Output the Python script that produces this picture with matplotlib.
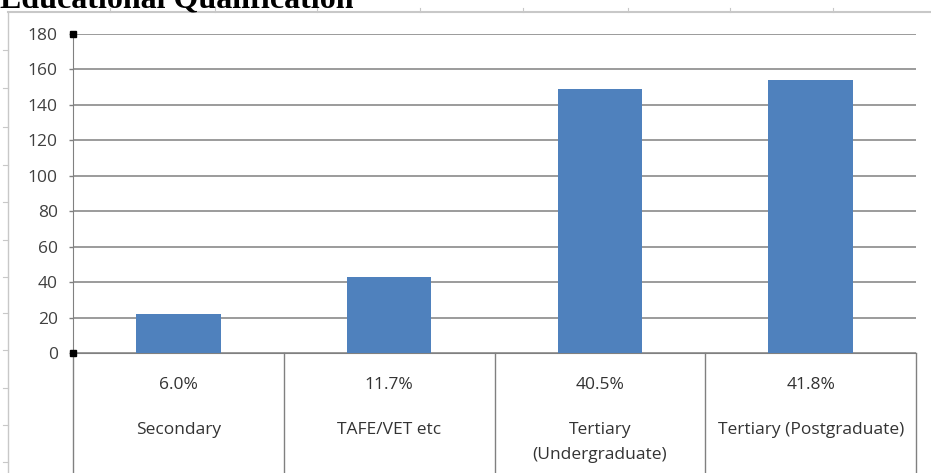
import numpy as np
import matplotlib.pyplot as plt
from matplotlib.lines import Line2D

categories = ['Secondary', 'TAFE/VET etc', 'Tertiary\n(Undergraduate)', 'Tertiary (Postgraduate)']
counts = [22, 43, 149, 154]
shares = ['6.0%', '11.7%', '40.5%', '41.8%']
yticks = [0, 20, 40, 60, 80, 100, 120, 140, 160, 180]

W, H = 931, 473
fig = plt.figure(figsize=(W / 100, H / 100), dpi=100)
fig.patch.set_facecolor('white')

# faint sheet border lines with small ticks (background of the screenshot)
bg = '#c8c8c8'
fig.add_artist(Line2D([8 / W, 8 / W], [0, 1 - 12 / H], color=bg, lw=1))
fig.add_artist(Line2D([8 / W, 1], [1 - 12 / H, 1 - 12 / H], color=bg, lw=1.5))
for yp in [50, 88, 127, 165, 202, 240, 277, 313, 350, 388, 425, 462]:
    fig.add_artist(Line2D([3 / W, 8 / W], [1 - yp / H, 1 - yp / H], color=bg, lw=0.8))
for xp in [110, 215, 317, 420, 523, 628, 730, 833]:
    fig.add_artist(Line2D([xp / W, xp / W], [1 - 12 / H, 1 - 8 / H], color=bg, lw=0.8))

# title, cut off at the top
fig.text(0.0, 1 - 7 / H, 'Educational Qualification', family='Liberation Serif',
         weight='bold', fontsize=23, ha='left', va='baseline')

ax = fig.add_axes([73 / W, 1 - 353 / H, (916 - 73) / W, (353 - 34) / H])
x = np.arange(len(categories))
ax.bar(x, counts, width=0.4, color='#4f81bd', zorder=3)
ax.set_xlim(-0.5, len(categories) - 0.5)
ax.set_ylim(0, 180)
ax.set_yticks(yticks)
ax.yaxis.grid(True, color='#808080', lw=1.1, zorder=0)
ax.set_xticks([])
ax.tick_params(axis='y', length=3, width=1, color='#808080', labelsize=12.5,
               labelcolor='#404040', pad=8)
for lab in ax.get_yticklabels():
    lab.set_family('Open Sans')
for s in ['top', 'right']:
    ax.spines[s].set_visible(False)
ax.spines['bottom'].set_color('#808080')
ax.spines['left'].set_color('#808080')
ax.spines['left'].set_bounds(0, 180)

# small black handles at the axis ends
ax.plot([-0.5, -0.5], [0, 180], ls='none', marker='s', ms=5, color='black',
        clip_on=False, zorder=5)

# data table below the axis
tr = ax.get_xaxis_transform()
bottom = -(H - 353) / (353 - 34)
for b in np.arange(-0.5, len(categories), 1.0):
    ax.plot([b, b], [0, bottom], color='#808080', lw=1, transform=tr, clip_on=False)
for i, (c, s) in enumerate(zip(categories, shares)):
    ax.text(i, -0.10, s, transform=tr, ha='center', va='center', fontsize=12.5,
            family='Open Sans', color='#333333')
    for k, line in enumerate(c.split('\n')):
        ax.text(i, -0.241 - k * 0.078, line, transform=tr, ha='center', va='center',
                fontsize=12.5, family='Open Sans', color='#333333')

fig.savefig('out.png', dpi=100)
